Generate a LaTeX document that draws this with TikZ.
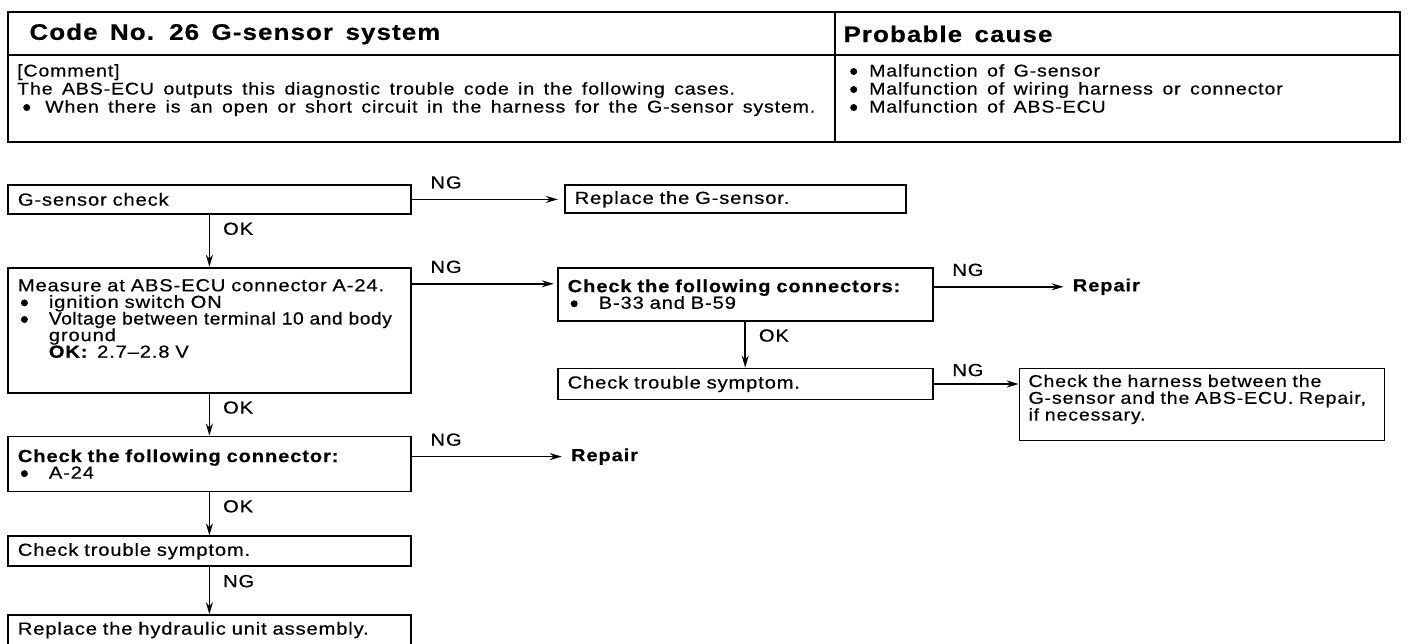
\documentclass[tikz,border=0pt]{standalone}
\usepackage{fontspec}
\newfontfamily\flowfont{Liberation Sans}[FakeStretch=1.15, LetterSpace=5, WordSpace=1.5, FakeBold=0.5]
\newfontfamily\tightfont{Liberation Sans}[FakeStretch=1.1, LetterSpace=3, FakeBold=0.5]
\usetikzlibrary{arrows,arrows.meta,positioning}

\newcommand{\dotmark}{\tikz[baseline=-5pt]\fill (0,0) circle (3.5pt);}
\newcommand{\bul}{\makebox[31pt][l]{\hspace*{3pt}\dotmark}}
\newcommand{\flowsize}{\fontsize{17.5pt}{16.6pt}\selectfont}

\tikzstyle{stepbox} = [rectangle, draw=black, line width=1.8pt, align=left, inner xsep=10pt, inner ysep=2pt, font=\flowfont\flowsize]
\tikzstyle{widebox} = [stepbox, text width=383pt]
\tikzstyle{endtext} = [font=\flowfont\flowsize\bfseries, inner xsep=9pt]
\tikzstyle{lbl} = [font=\flowfont\flowsize, inner sep=2pt]
\tikzstyle{nglbl} = [lbl, pos=0, anchor=south west, xshift=16pt, yshift=8pt]
\tikzstyle{oklbl} = [lbl, pos=0, anchor=north west, xshift=11pt, yshift=-5pt]
\tikzstyle{arrow} = [line width=1.5pt,->,>={Stealth[length=12pt,width=7pt]}]

\begin{document}
\begin{tikzpicture}[x=1pt, y=1pt]
\useasboundingbox (0,0) rectangle (1408,-644);

% header table
\draw[line width=2.2pt] (8,-12) rectangle (1400,-142);
\draw[line width=2.2pt] (8,-55) -- (1400,-55);
\draw[line width=2.2pt] (835,-12) -- (835,-142);
\node (title) [anchor=west, font=\flowfont\bfseries\fontsize{22.5pt}{25pt}\selectfont] at (26,-34) {Code No. 26 G-sensor system};
\node (cause) [anchor=west, font=\flowfont\bfseries\fontsize{22.5pt}{25pt}\selectfont] at (840,-34) {Probable cause};
\node (comment) [anchor=north west, align=left, inner sep=2pt, font=\flowfont\fontsize{17pt}{18pt}\selectfont] at (15,-62) {[Comment]\\
  The ABS-ECU outputs this diagnostic trouble code in the following cases.\\
  \makebox[28pt][l]{\hspace*{6pt}\dotmark}When there is an open or short circuit in the harness for the G-sensor system.};
\node (causes) [anchor=north west, align=left, inner sep=2pt, font=\flowfont\fontsize{17pt}{18pt}\selectfont] at (846,-62) {\makebox[21pt][l]{\hspace*{2pt}\dotmark}Malfunction of G-sensor\\
  \makebox[21pt][l]{\hspace*{2pt}\dotmark}Malfunction of wiring harness or connector\\
  \makebox[21pt][l]{\hspace*{2pt}\dotmark}Malfunction of ABS-ECU};

% flow
\node (gcheck) [widebox, minimum height=29pt, anchor=north west] at (7,-184) {G-sensor check};
\node (measure) [widebox, minimum height=125pt, below=52pt of gcheck] {Measure at ABS-ECU connector A-24.\\
  \bul ignition switch ON\\
  \bul{\tightfont Voltage between terminal 10 and body}\\
  \hspace*{31pt}ground\\
  \hspace*{31pt}\textbf{OK:}\enspace 2.7–2.8 V\\[7pt]\mbox{}};
\node (conn) [widebox, minimum height=55pt, below=42pt of measure] {\textbf{Check the following connector:}\\ \bul A-24};
\node (trouble2) [widebox, minimum height=30pt, below=43pt of conn] {Check trouble symptom.};
\node (hydr) [widebox, minimum height=30pt, below=47pt of trouble2] {Replace the hydraulic unit assembly.};

\node (replg) [stepbox, text width=321pt, minimum height=28pt, right=152pt of gcheck] {Replace the G-sensor.};
\node (conns) [stepbox, text width=355pt, minimum height=53pt, right=145pt of measure.north east, anchor=north west] {\textbf{Check the following connectors:}\\ \bul B-33 and B-59};
\node (trouble1) [stepbox, text width=355pt, minimum height=31pt, below=46pt of conns] {Check trouble symptom.};
\node (harness) [stepbox, text width=347pt, inner xsep=9pt, minimum height=72pt, right=85pt of trouble1.north east, anchor=north west, font=\flowfont\fontsize{17pt}{16.8pt}\selectfont] {Check the harness between the\\
  G-sensor and the ABS-ECU. Repair,\\
  if necessary.\\[-3pt]\mbox{}};
\node (repair1) [endtext, right=130pt of conns.north east, yshift=-20pt] {Repair};
\node (repair2) [endtext, right=150pt of conn.north east, yshift=-21pt] {Repair};

\draw[arrow, shorten >=6pt] (gcheck.east) -- (gcheck.east -| replg.west) node[nglbl] {NG};
\draw[arrow] (gcheck) -- (measure) node[oklbl] {OK};
\draw[arrow, shorten >=3pt] ([yshift=-17pt]measure.north east) -- ([yshift=-17pt]conns.north west) node[nglbl] {NG};
\draw[arrow] (conns.east |- repair1) -- (repair1) node[nglbl] {NG};
\draw[arrow] (conns) -- (trouble1) node[oklbl] {OK};
\draw[arrow] (trouble1.east) -- (trouble1.east -| harness.west) node[nglbl, yshift=-3pt] {NG};
\draw[arrow] (measure) -- (conn) node[oklbl] {OK};
\draw[arrow] (conn.east |- repair2) -- (repair2) node[nglbl] {NG};
\draw[arrow] (conn) -- (trouble2) node[oklbl] {OK};
\draw[arrow] (trouble2) -- (hydr) node[oklbl] {NG};
\end{tikzpicture}
\end{document}
